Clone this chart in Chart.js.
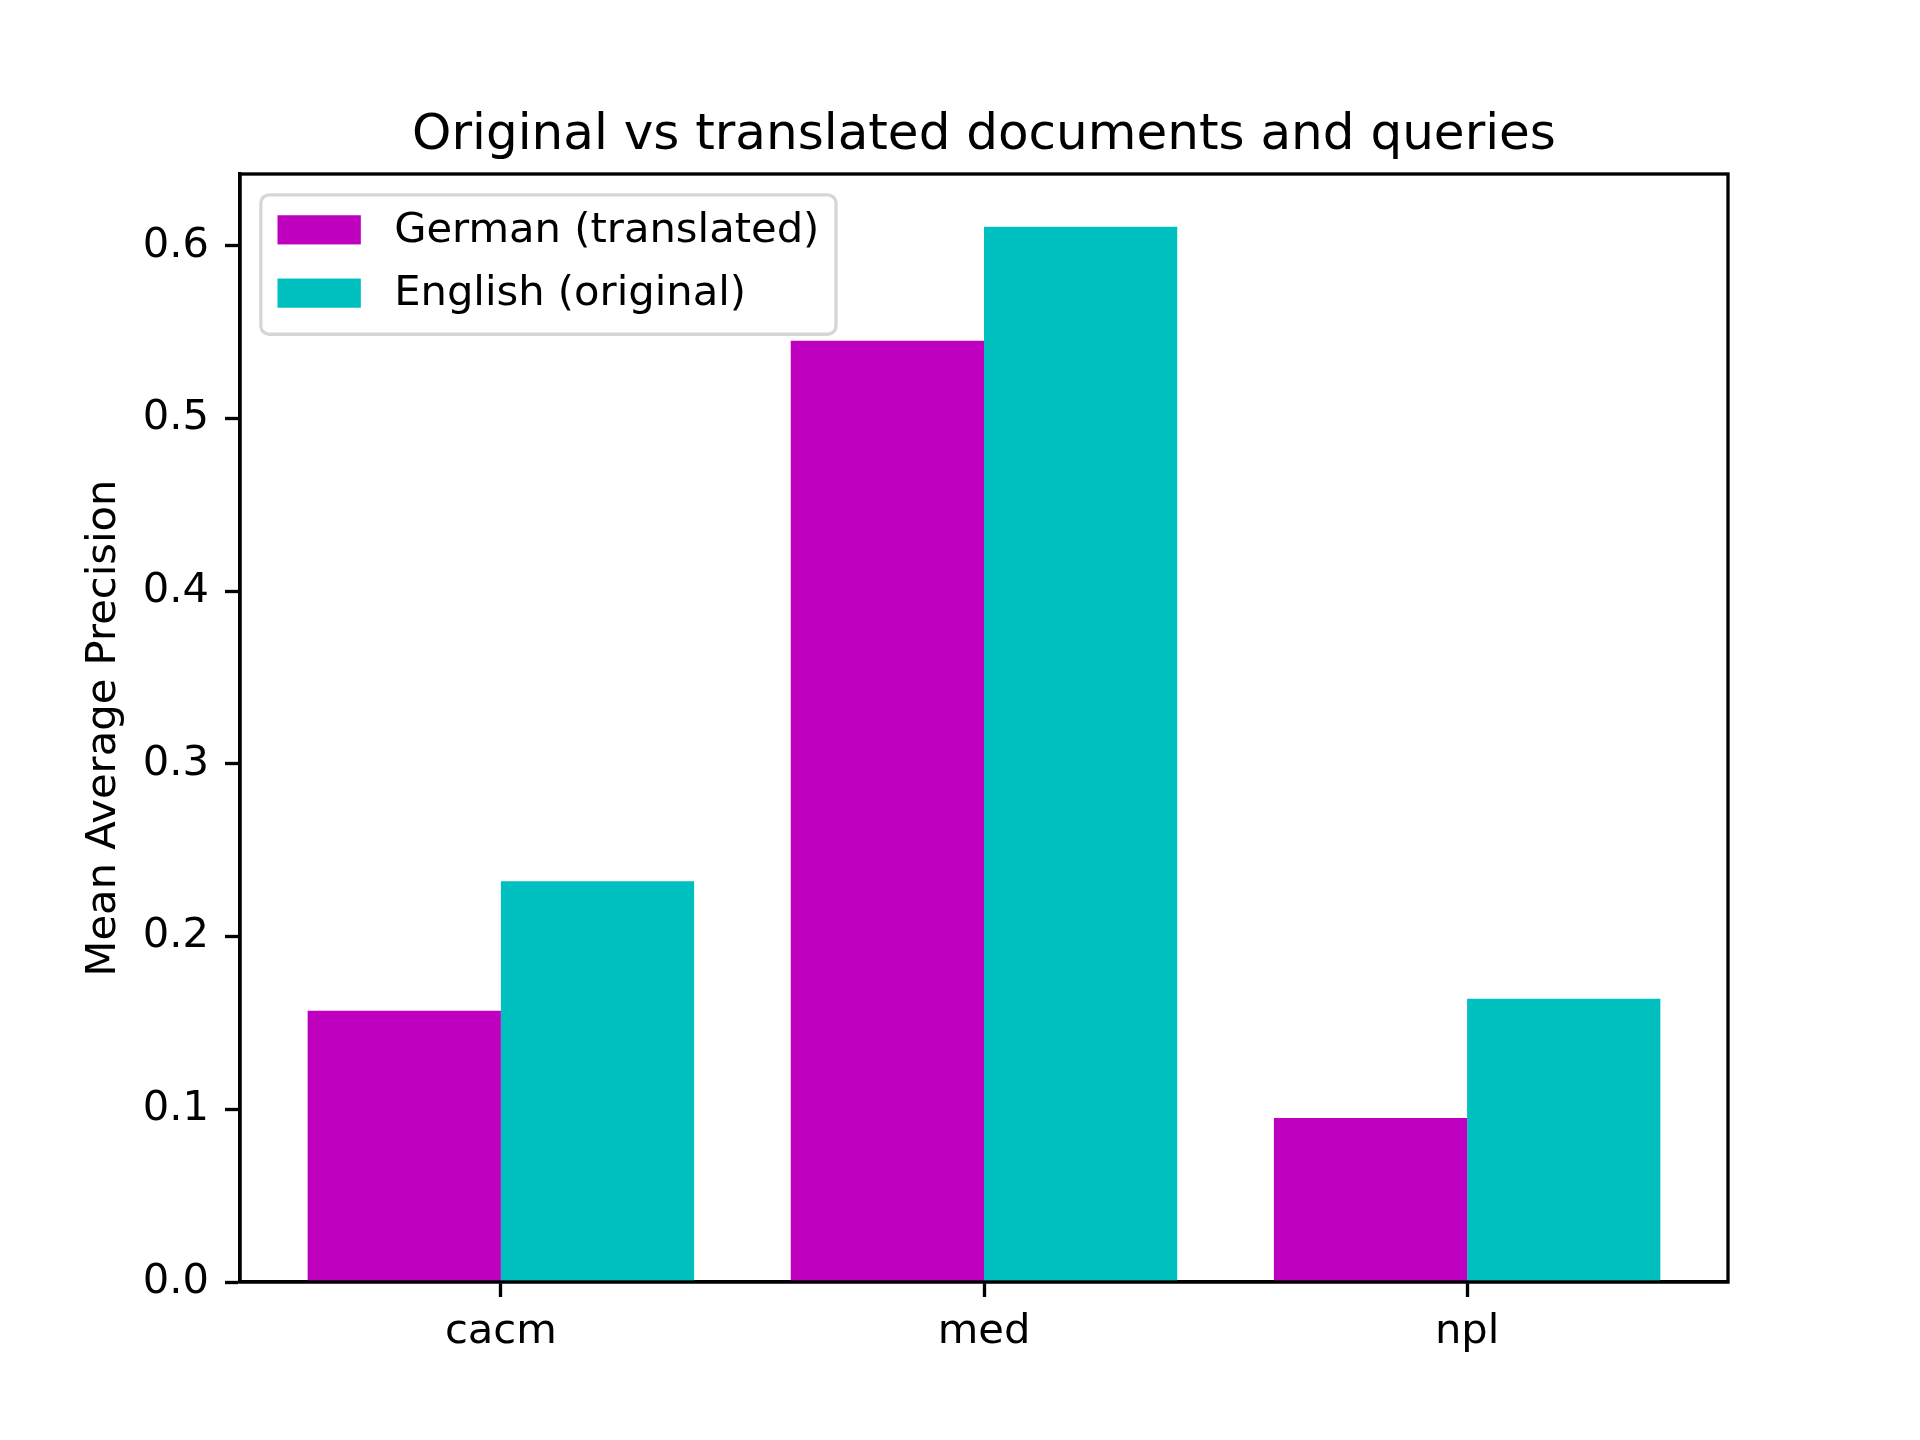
<!DOCTYPE html>
<html>
<head>
<meta charset="utf-8">
<script src="https://cdn.jsdelivr.net/npm/chart.js@4/dist/chart.umd.min.js"></script>
<style>
  html, body { margin: 0; padding: 0; background: #ffffff; }
  #wrap { width: 1920px; height: 1440px; }
</style>
</head>
<body>
<div id="wrap"><canvas id="c" width="1920" height="1440"></canvas></div>
<script>
// ---- data ----
const categories = ['cacm', 'med', 'npl'];
const germanValues = [0.157, 0.545, 0.095];
const englishValues = [0.232, 0.611, 0.164];
const yTickValues = [0.0, 0.1, 0.2, 0.3, 0.4, 0.5, 0.6];
const seriesLabels = ['German (translated)', 'English (original)'];
const seriesColors = ['#bf00bf', '#00bfbf'];
const titleText = 'Original vs translated documents and queries';
const yAxisTitle = 'Mean Average Precision';

// ---- style constants ----
const FONT = '"DejaVu Sans", sans-serif';
const TICK_FS = 41.67;
const TITLE_FS = 50;
const LW = 3.33;

const xMin = -0.4 - 0.05 * (categories.length - 1 + 0.8);
const xMax = categories.length - 1 + 0.4 + 0.05 * (categories.length - 1 + 0.8);
const yMax = Math.max(...germanValues, ...englishValues) * 1.05;

const toPoints = vals => vals.map((v, i) => ({ x: i, y: v }));

const spinesTitleLegend = {
  id: 'spinesTitleLegend',
  afterDraw(chart) {
    const ctx = chart.ctx;
    const a = chart.chartArea;
    ctx.save();
    // spines
    ctx.strokeStyle = '#000';
    ctx.lineWidth = LW;
    ctx.strokeRect(a.left, a.top, a.right - a.left, a.bottom - a.top);

    // title centred over the axes
    ctx.font = `${TITLE_FS}px ${FONT}`;
    ctx.fillStyle = '#000';
    ctx.textAlign = 'center';
    ctx.textBaseline = 'middle';
    ctx.fillText(titleText, (a.left + a.right) / 2, a.top - 38);

    // legend (upper left, inside axes)
    const fs = TICK_FS;
    ctx.font = `${fs}px ${FONT}`;
    const ds = chart.data.datasets;
    const tw = Math.max(...ds.map(d => ctx.measureText(d.label).width));
    const bx = a.left + 0.5 * fs;
    const by = a.top + 0.5 * fs;
    const borderpad = 0.4 * fs;
    const handleLen = 2.0 * fs;
    const handleH = 0.7 * fs;
    const textPad = 0.8 * fs;
    const rowStep = 63.3;
    const firstRow = 35;
    const bw = borderpad * 2 + handleLen + textPad + tw;
    const bh = 139.4;
    const r = 0.2 * fs;
    ctx.beginPath();
    ctx.roundRect(bx, by, bw, bh, r);
    ctx.fillStyle = 'rgba(255,255,255,0.8)';
    ctx.fill();
    ctx.strokeStyle = 'rgba(204,204,204,0.8)';
    ctx.lineWidth = LW;
    ctx.stroke();
    ds.forEach((d, i) => {
      const cy = by + firstRow + i * rowStep;
      ctx.fillStyle = d.backgroundColor;
      ctx.fillRect(bx + borderpad, cy - handleH / 2, handleLen, handleH);
      ctx.fillStyle = '#000';
      ctx.textBaseline = 'middle';
      ctx.textAlign = 'left';
      ctx.fillText(d.label, bx + borderpad + handleLen + textPad, cy + 1);
    });
    ctx.restore();
  }
};

new Chart(document.getElementById('c'), {
  type: 'bar',
  data: {
    datasets: [
      { label: seriesLabels[0], data: toPoints(germanValues), backgroundColor: seriesColors[0], borderWidth: 0 },
      { label: seriesLabels[1], data: toPoints(englishValues), backgroundColor: seriesColors[1], borderWidth: 0 }
    ]
  },
  options: {
    responsive: false,
    animation: false,
    devicePixelRatio: 1,
    categoryPercentage: 0.8,
    barPercentage: 1.0,
    layout: { padding: { left: 0, right: 192, top: 174, bottom: 0 } },
    plugins: {
      legend: { display: false },
      tooltip: { enabled: false },
      title: { display: false }
    },
    scales: {
      x: {
        type: 'linear',
        min: xMin,
        max: xMax,
        offset: false,
        afterBuildTicks: axis => { axis.ticks = categories.map((_, i) => ({ value: i })); },
        afterFit: s => { s.height = 158; },
        ticks: {
          color: '#000',
          font: { family: FONT, size: TICK_FS },
          padding: 10,
          maxRotation: 0,
          autoSkip: false,
          callback: v => categories[v] ?? ''
        },
        grid: { display: true, offset: false, drawOnChartArea: false, drawTicks: true, tickLength: 15, tickWidth: LW, tickColor: '#000' },
        border: { display: true, color: '#000', width: LW }
      },
      y: {
        type: 'linear',
        min: 0,
        max: yMax,
        afterBuildTicks: axis => { axis.ticks = yTickValues.map(v => ({ value: v })); },
        afterFit: s => { s.width = 240; },
        ticks: {
          color: '#000',
          font: { family: FONT, size: TICK_FS },
          padding: 16,
          callback: v => Number(v).toFixed(1)
        },
        title: {
          display: true,
          text: yAxisTitle,
          color: '#000',
          font: { family: FONT, size: TICK_FS, lineHeight: 1.2 },
          padding: { top: 79, bottom: 0 }
        },
        grid: { display: true, drawOnChartArea: false, drawTicks: true, tickLength: 15, tickWidth: LW, tickColor: '#000' },
        border: { display: true, color: '#000', width: LW }
      }
    }
  },
  plugins: [spinesTitleLegend]
});
</script>
</body>
</html>
